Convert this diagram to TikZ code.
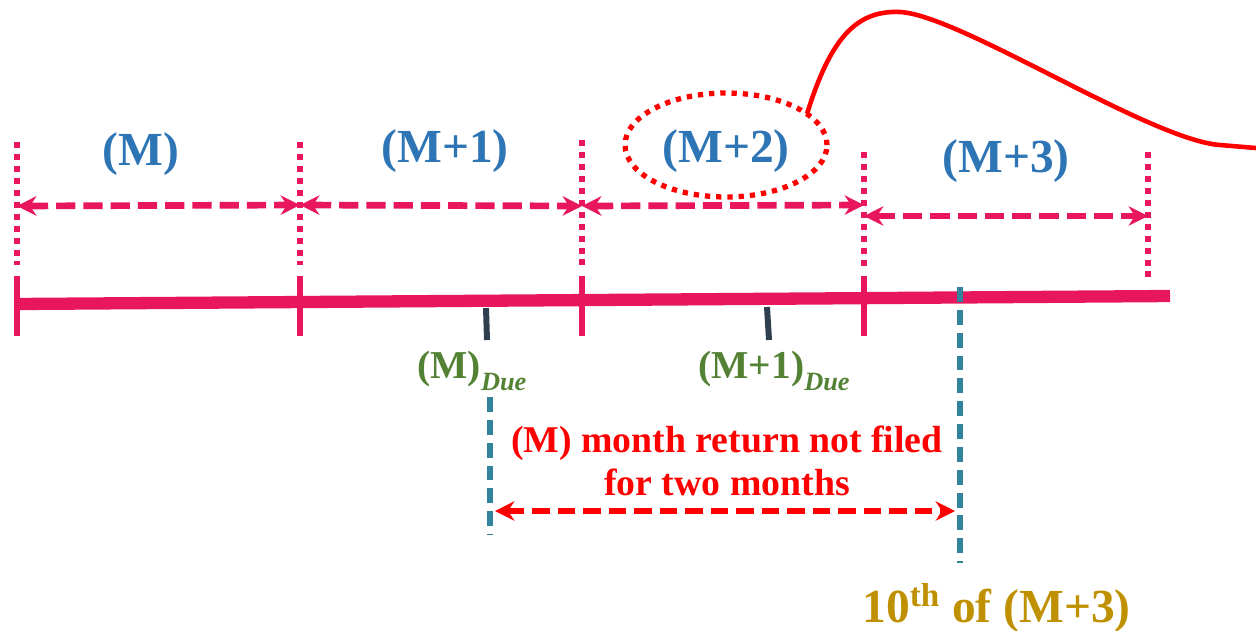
\documentclass[tikz,border=0pt]{standalone}
\usepackage{fontspec}
\setmainfont{Liberation Serif}
\usetikzlibrary{arrows.meta,shapes.geometric}
\definecolor{axispink}{HTML}{E8175D}
\definecolor{labelblue}{HTML}{2E75B6}
\definecolor{duegreen}{HTML}{548235}
\definecolor{goldtext}{HTML}{BF9000}
\definecolor{tealline}{HTML}{31849B}
\definecolor{slatetick}{HTML}{2F3F4F}
\begin{document}
\begin{tikzpicture}[x=0.02cm, y=-0.02cm,
  monthlbl/.style={text=labelblue, anchor=base, inner sep=0pt,
    font=\fontsize{27}{30}\selectfont\bfseries},
  duelbl/.style={text=duegreen, anchor=base west, inner sep=0pt,
    font=\fontsize{22.5}{24}\selectfont\bfseries},
  monthspan/.style={axispink, line width=3.8pt, dash pattern=on 11pt off 4.5pt,
    {Stealth[length=11pt,width=11pt]}-{Stealth[length=11pt,width=11pt]}},
  boundary/.style={axispink, line width=3.6pt, dash pattern=on 3.6pt off 3.2pt},
  monthtick/.style={axispink, line width=3.6pt},
  duetick/.style={slatetick, line width=3.4pt},
  tealmark/.style={tealline, line width=3.4pt, dash pattern=on 8.5pt off 4.5pt}]
  \useasboundingbox (0,0) rectangle (1256,630);

  % time axis
  \coordinate (ax0) at (15,304);
  \coordinate (ax1) at (1170,296);
  \draw[axispink, line width=7pt] (ax0) -- (ax1);

  % month boundaries: dotted guide, tick on the axis
  \foreach \name/\x/\ytop/\ybot in {b0/17/142/265, b1/300/142/265, b2/582/140/265,
                                    b3/864/152/267, b4/1148/152/277} {
    \coordinate (\name top) at (\x,\ytop);
    \coordinate (\name bot) at (\x,\ybot);
    \draw[boundary] (\name top) -- (\name bot);
  }
  \foreach \x in {17, 300, 582, 864} {
    \draw[monthtick] (\x,276) -- (\x,336);
  }

  % month spans
  \coordinate (s0) at (17,206);
  \coordinate (s1) at (300,205);
  \coordinate (s2) at (582,206);
  \coordinate (s3) at (864,205);
  \coordinate (r3) at (864,216);
  \coordinate (r4) at (1148,216);
  \draw[monthspan] (s0) -- (s1);
  \draw[monthspan] (s1) -- (s2);
  \draw[monthspan] (s2) -- (s3);
  \draw[monthspan] (r3) -- (r4);

  \node[monthlbl] (m0) at (141,165) {(M)};
  \node[monthlbl] (m1) at (445,162) {(M+1)};
  \node[monthlbl] (m2) at (726,162) {(M+2)};
  \node[monthlbl] (m3) at (1006,172) {(M+3)};

  % highlight of (M+2) and its tail
  \node[ellipse, draw=red, line width=3pt, dash pattern=on 3pt off 3.4pt,
        minimum width=4.04cm, minimum height=2.08cm, inner sep=0pt, outer sep=0pt]
        (hilite) at (726,145) {};
  \draw[red, line width=2.6pt] (hilite.21) .. controls (830,40) and (855,10) .. (900,12)
    .. controls (960,15) and (1150,140) .. (1220,145) -- (1256,148);

  % due dates
  \draw[duetick] (486,308) -- (487,340);
  \draw[duetick] (767,307) -- (769,340);
  \node[duelbl] (due0) at (417,378)
    {(M)\raisebox{-7pt}{\fontsize{15}{16}\selectfont\bfseries\itshape Due}};
  \node[duelbl] (due1) at (698,378)
    {(M+1)\raisebox{-7pt}{\fontsize{15}{16}\selectfont\bfseries\itshape Due}};

  % period not filed
  \coordinate (ta) at (490,397);
  \coordinate (tb) at (490,535);
  \coordinate (tc) at (960,287);
  \coordinate (td) at (960,563);
  \draw[tealmark] (ta) -- (tb);
  \draw[tealmark] (tc) -- (td);
  \coordinate (pa) at (495,511);
  \coordinate (pb) at (955,511);
  \draw[red, line width=3.8pt, dash pattern=on 10pt off 4.5pt,
        {Stealth[length=11pt,width=11pt]}-{Stealth[length=11pt,width=11pt]}] (pa) -- (pb);
  \node[text=red, align=center, inner sep=0pt, font=\fontsize{21.5}{24.5}\selectfont\bfseries]
    (late) at (727,461) {(M) month return not filed\\for two months};

  \node[text=goldtext, anchor=base west, inner sep=0pt, font=\fontsize{27}{30}\selectfont\bfseries]
    (tenth) at (862,622) {10\textsuperscript{th} of (M+3)};
\end{tikzpicture}
\end{document}
